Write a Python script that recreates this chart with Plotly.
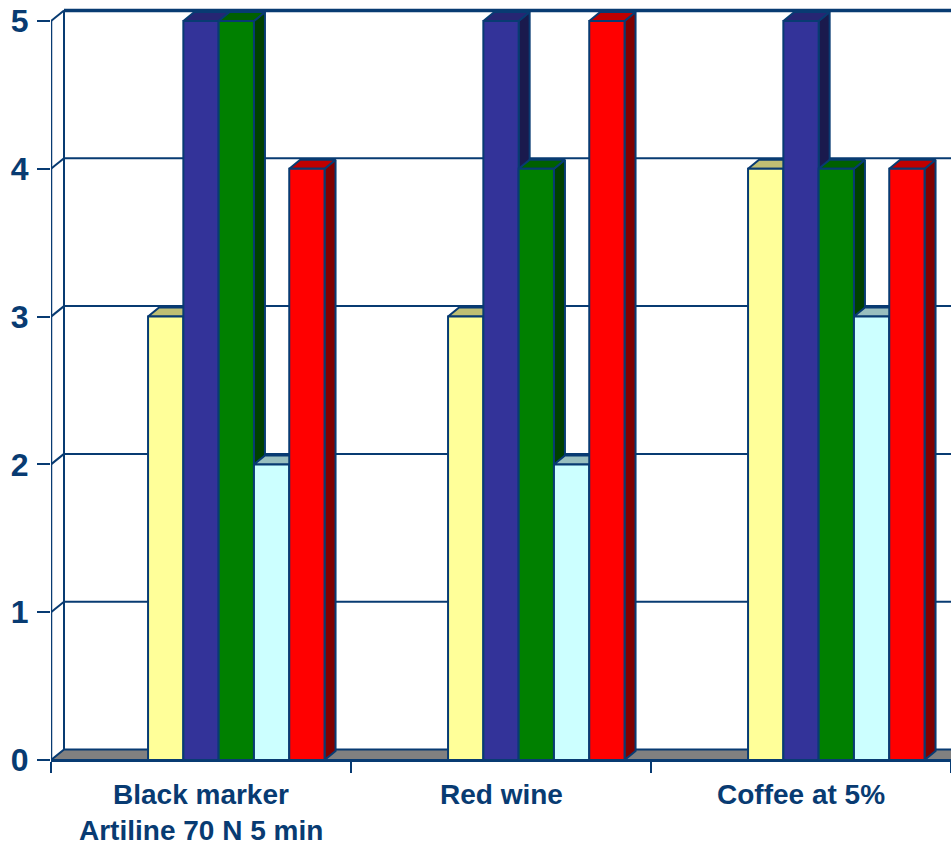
import plotly.graph_objects as go

# ---- data -------------------------------------------------------------
category_lines = [
    ["Black marker", "Artiline 70 N 5 min"],
    ["Red wine"],
    ["Coffee at 5%"],
]

# seven series per category; the first two have no values
series_a = [None, None, None]
series_b = [None, None, None]
series_c = [3, 3, 4]
series_d = [5, 5, 5]
series_e = [5, 4, 4]
series_f = [2, 2, 3]
series_g = [4, 5, 4]

y_ticks = [0, 1, 2, 3, 4, 5]

# ---- styling ----------------------------------------------------------
series = [series_a, series_b, series_c, series_d, series_e, series_f, series_g]
front_colors = [None, None, "#FFFF99", "#333399", "#008000", "#CCFFFF", "#FF0000"]
top_colors = [None, None, "#BFBF73", "#262673", "#006000", "#99BFBF", "#BF0000"]
side_colors = [None, None, "#80804D", "#1A1A4D", "#004000", "#668080", "#800000"]

INK = "#083B72"
FLOOR = "#808080"
FONT = "Liberation Sans"

W, H = 951, 846
ML, MR, MT, MB = 51, 0, 0, 86
PLOT_W = W - ML - MR
PLOT_H = H - MT - MB

X_RANGE = [-0.5, 2.5]
PX_PER_X = PLOT_W / (X_RANGE[1] - X_RANGE[0])
TOP_VALUE_PX = 21  # pixel row of the value 5 on the front plane
Y_MAX = 5 * PLOT_H / (PLOT_H - TOP_VALUE_PX)
PX_PER_Y = PLOT_H / Y_MAX

# oblique depth of the walls and of the columns (in pixels -> data units)
WALL_DX, WALL_DY = 13 / PX_PER_X, 10.5 / PX_PER_Y
BAR_DX, BAR_DY = 11 / PX_PER_X, 9 / PX_PER_Y

N_SLOTS = len(series)
BAR_W = 35.3 / PX_PER_X

fig = go.Figure()


def poly(xs, ys, fill, width=2):
    fig.add_trace(go.Scatter(
        x=xs + [xs[0]], y=ys + [ys[0]], mode="lines", fill="toself",
        fillcolor=fill, line=dict(color=INK, width=width),
        hoverinfo="skip", showlegend=False))


def line(xs, ys, width=2):
    fig.add_trace(go.Scatter(
        x=xs, y=ys, mode="lines", line=dict(color=INK, width=width),
        hoverinfo="skip", showlegend=False))


x_left, x_right = X_RANGE
bx_left = x_left + WALL_DX

# floor
poly([x_left, x_right + 1, x_right + 1 + WALL_DX, bx_left],
     [0, 0, WALL_DY, WALL_DY], FLOOR)

# back wall gridlines and left side wall
for v in y_ticks[1:]:
    line([bx_left, x_right + 1], [v + WALL_DY, v + WALL_DY],
         width=3.5 if v == y_ticks[-1] else 2)
    line([x_left, bx_left], [v, v + WALL_DY])
line([bx_left, bx_left], [WALL_DY, y_ticks[-1] + WALL_DY])
line([x_left, x_left], [0, y_ticks[-1]], width=2.5)

# columns, painted left to right so each front face hides its neighbour's side
for ci in range(len(category_lines)):
    for si, vals in enumerate(series):
        h = vals[ci]
        if h is None:
            continue
        x0 = ci + (si - N_SLOTS / 2) * BAR_W
        x1 = x0 + BAR_W
        poly([x1, x1 + BAR_DX, x1 + BAR_DX, x1],
             [0, BAR_DY, h + BAR_DY, h], side_colors[si])
        poly([x0, x1, x1 + BAR_DX, x0 + BAR_DX],
             [h, h, h + BAR_DY, h + BAR_DY], top_colors[si])
        poly([x0, x1, x1, x0], [0, 0, h, h], front_colors[si])

# category labels
for ci, lines in enumerate(category_lines):
    for li, txt in enumerate(lines):
        fig.add_annotation(
            x=ci, xref="x", y=0, yref="paper", yanchor="middle",
            yshift=-34 - 36 * li, text=txt, showarrow=False, borderpad=0,
            font=dict(family=FONT, size=28, color=INK, weight="bold"))

fig.update_layout(
    width=W, height=H,
    margin=dict(l=ML, r=MR, t=MT, b=MB, pad=0),
    paper_bgcolor="white", plot_bgcolor="white",
    showlegend=False,
    xaxis=dict(
        range=X_RANGE, showgrid=False, zeroline=False,
        showline=True, linecolor=INK, linewidth=2,
        tickvals=[], showticklabels=False,
        minor=dict(tickvals=[x_left + k for k in range(4)], ticks="outside",
                   ticklen=11, tickwidth=2, tickcolor=INK),
        fixedrange=True),
    yaxis=dict(
        range=[0, Y_MAX], showgrid=False, zeroline=False, showline=False,
        tickvals=y_ticks, ticktext=[str(v) for v in y_ticks],
        ticks="outside", ticklen=13, tickwidth=2, tickcolor=INK,
        ticklabelstandoff=2,
        tickfont=dict(family=FONT, size=32, color=INK, weight="bold"),
        fixedrange=True),
)

fig.write_html("out.html")
